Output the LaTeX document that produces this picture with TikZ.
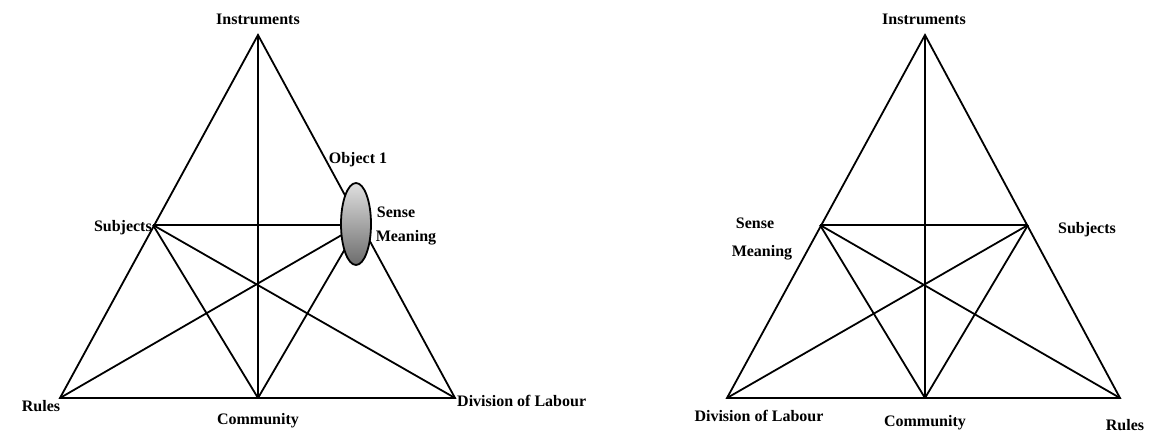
\documentclass[tikz,border=0pt]{standalone}
\usepackage{fontspec}
\setmainfont{Liberation Serif}
\usetikzlibrary{shapes.geometric}
\begin{document}
\begin{tikzpicture}[x=1pt,y=-1pt,
  edge/.style={line width=1.8pt,line join=miter},
  lbl/.style={font=\bfseries\fontsize{16}{18}\selectfont,inner sep=0pt},
  blob/.style={ellipse,draw,line width=1.8pt,minimum width=30pt,minimum height=82pt,
    top color=gray!25,bottom color=gray!85!black,inner sep=0pt}]
\useasboundingbox (0,0) rectangle (1149,441);
% left activity triangle
\coordinate (Ai) at (258,35);
\coordinate (Ar) at (60,398);
\coordinate (Ad) at (455,398);
\coordinate (Ac) at (258,398);
\coordinate (As) at (153,225);
\coordinate (Ao) at (359,225);
\draw[edge] (Ar) -- (Ai) -- (Ad) -- cycle;
\draw[edge] (Ai) -- (Ac);
\draw[edge] (As) -- (Ao);
\draw[edge] (As) -- (Ac);
\draw[edge] (As) -- (Ad);
\draw[edge] (Ao) -- (Ar);
\draw[edge] (Ao) -- (Ac);
\node[blob] (obj) at (356,224) {};
% right activity triangle
\coordinate (Bi) at (925,35);
\coordinate (Bd) at (727,398);
\coordinate (Br) at (1120,398);
\coordinate (Bc) at (925,398);
\coordinate (Bm) at (820,225);
\coordinate (Bs) at (1028,225);
\draw[edge] (Bd) -- (Bi) -- (Br) -- cycle;
\draw[edge] (Bi) -- (Bc);
\draw[edge] (Bm) -- (Bs);
\draw[edge] (Bm) -- (Bc);
\draw[edge] (Bm) -- (Br);
\draw[edge] (Bs) -- (Bd);
\draw[edge] (Bs) -- (Bc);
% labels, left
\node[lbl] (li) at (258,19) {Instruments};
\node[lbl] (lo) at (358,160) {Object 1};
\node[lbl] (ls) at (396,212) {Sense};
\node[lbl] (lm) at (406,238) {Meaning};
\node[lbl,anchor=east] (lsub) at (152,228) {Subjects};
\node[lbl] (lr) at (41,406) {Rules};
\node[lbl] (lc) at (258,421) {Community};
\node[lbl,anchor=west] (ld) at (457,401) {Division of Labour};
% labels, right
\node[lbl] (ri) at (924,19) {Instruments};
\node[lbl] (rs) at (755,223) {Sense};
\node[lbl] (rm) at (762,253) {Meaning};
\node[lbl] (rsub) at (1087,230) {Subjects};
\node[lbl] (rd) at (759,416) {Division of Labour};
\node[lbl] (rc) at (925,423) {Community};
\node[lbl] (rr) at (1125,425) {Rules};
\end{tikzpicture}
\end{document}
